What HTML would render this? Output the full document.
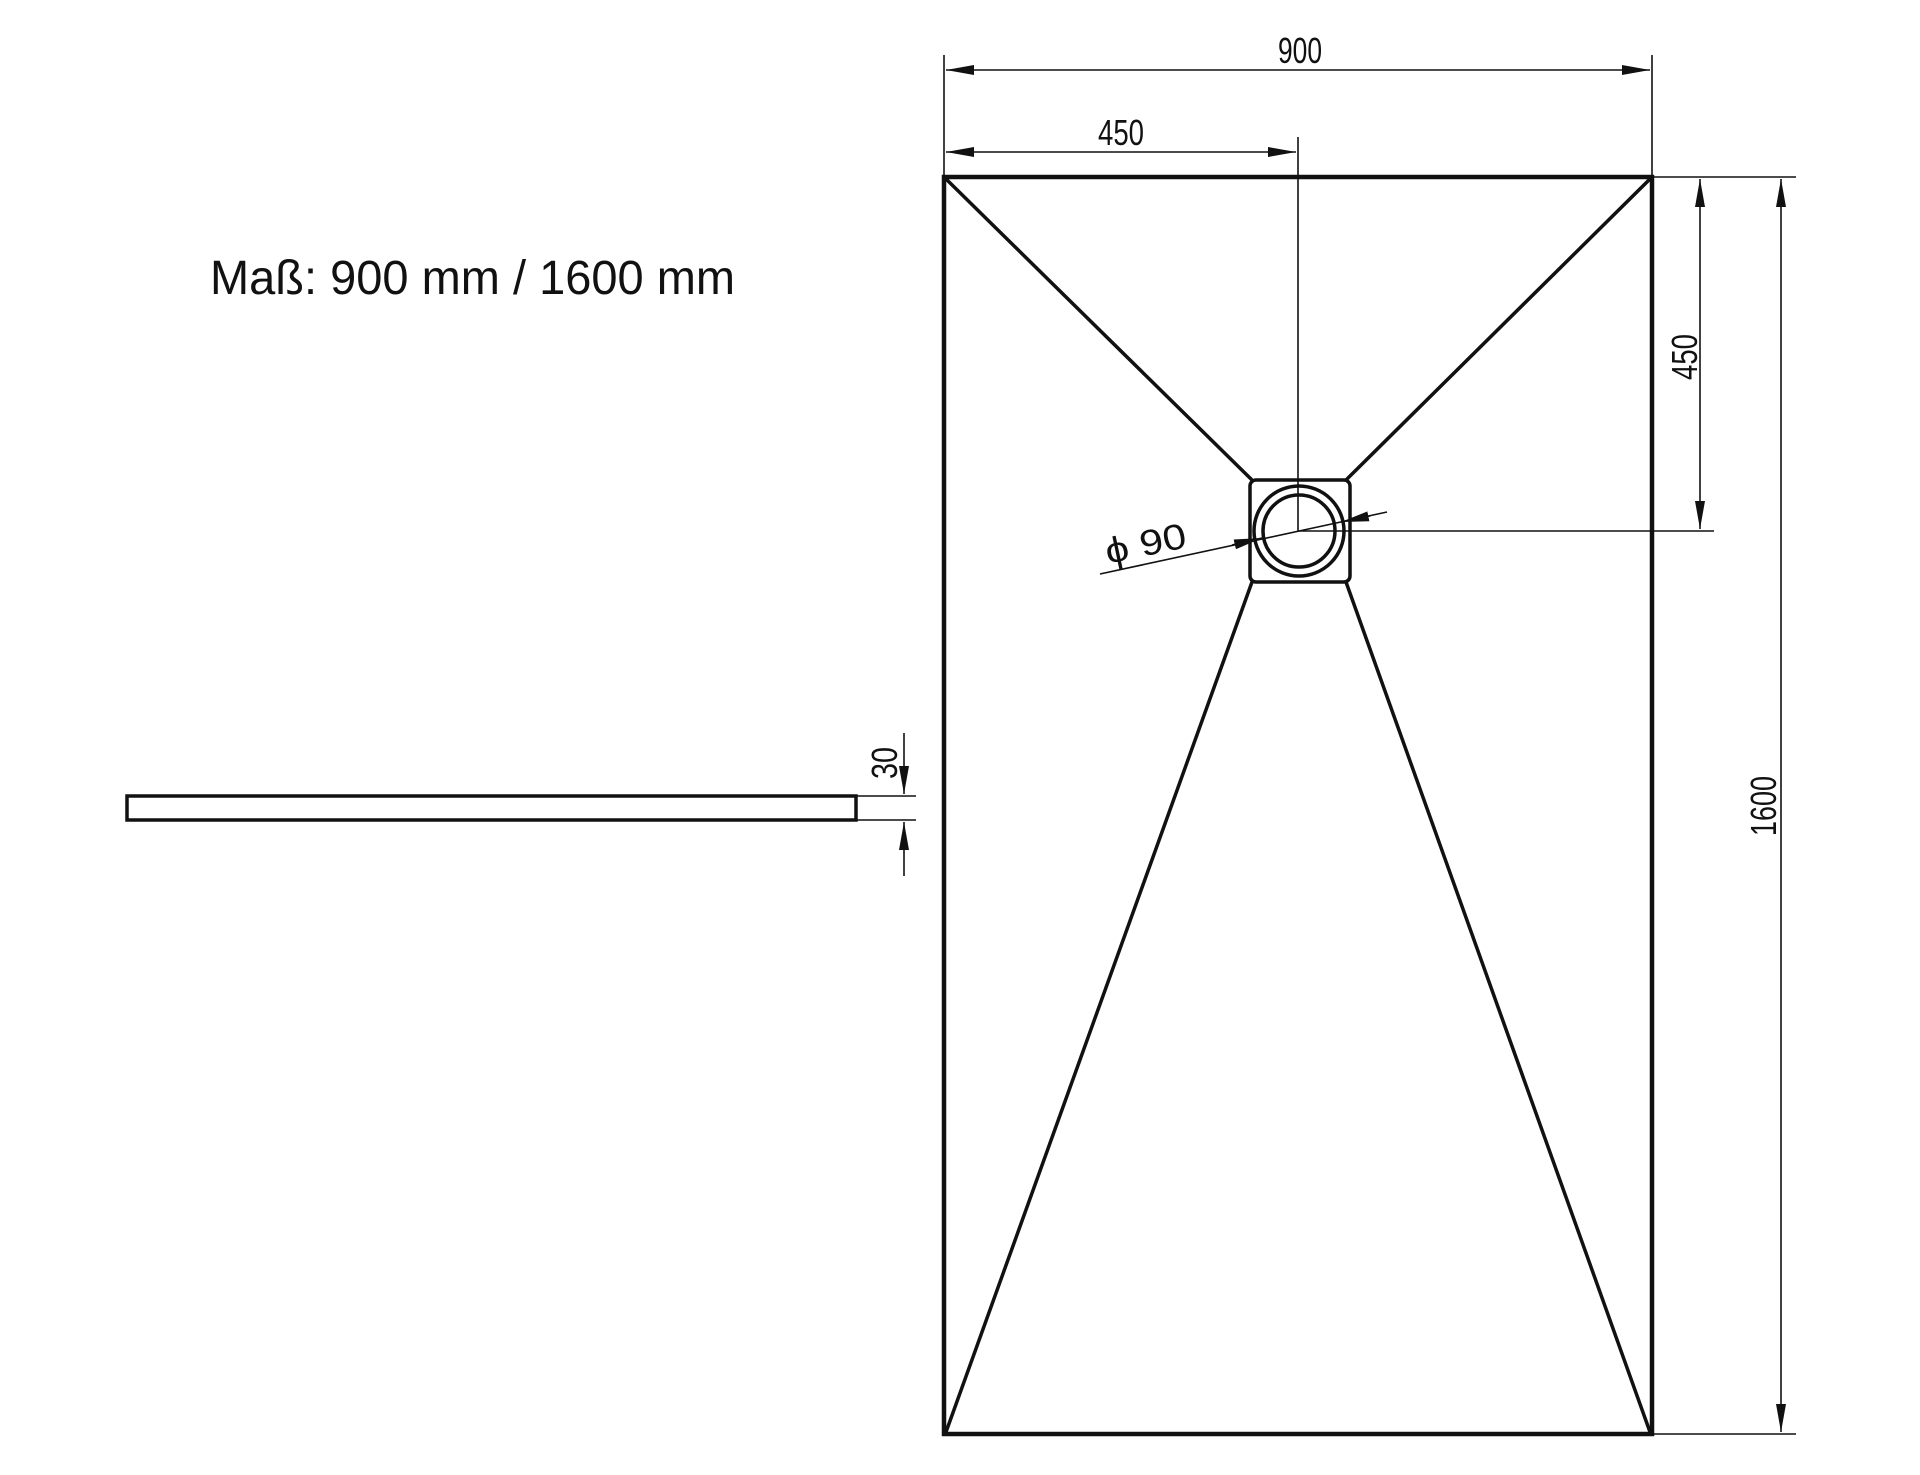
<!DOCTYPE html>
<html><head><meta charset="utf-8"><style>
html,body{margin:0;padding:0;background:#fff;width:1920px;height:1475px;overflow:hidden}
text{font-family:"Liberation Sans",sans-serif;fill:#111}
</style></head><body>
<svg width="1920" height="1475" viewBox="0 0 1920 1475" xmlns="http://www.w3.org/2000/svg">
<defs>
<marker id="a" viewBox="0 0 28 10" refX="28" refY="5" markerWidth="28" markerHeight="10" markerUnits="userSpaceOnUse" orient="auto-start-reverse"><path d="M0,0 L28,5 L0,10 Z" fill="#111"/></marker>
</defs>
<g stroke="#111" fill="none">
<rect x="944" y="177" width="708" height="1257" stroke-width="4.5"/>
<g stroke-width="3.5">
<line x1="944" y1="177" x2="1252" y2="480"/>
<line x1="1652" y1="177" x2="1346" y2="480"/>
<line x1="1252" y1="582" x2="946" y2="1432"/>
<line x1="1346" y1="582" x2="1650" y2="1432"/>
<rect x="1250" y="480" width="100" height="102" rx="6"/>
<circle cx="1299" cy="531" r="45"/>
<circle cx="1299" cy="531" r="36"/>
</g>
<g stroke-width="1.6">
<line x1="944" y1="55" x2="944" y2="177"/>
<line x1="1652" y1="55" x2="1652" y2="177"/>
<line x1="946" y1="70" x2="1650" y2="70" marker-start="url(#a)" marker-end="url(#a)"/>
<line x1="1298" y1="137" x2="1298" y2="531"/>
<line x1="946" y1="152" x2="1296" y2="152" marker-start="url(#a)" marker-end="url(#a)"/>
<line x1="1652" y1="177" x2="1796" y2="177"/>
<line x1="1299" y1="531" x2="1714" y2="531"/>
<line x1="1700" y1="179" x2="1700" y2="529" marker-start="url(#a)" marker-end="url(#a)"/>
<line x1="1652" y1="1434" x2="1796" y2="1434"/>
<line x1="1781" y1="179" x2="1781" y2="1432" marker-start="url(#a)" marker-end="url(#a)"/>
<line x1="1100" y1="574" x2="1387" y2="512"/>
<line x1="1232" y1="545" x2="1262" y2="538" marker-end="url(#a)"/>
<line x1="1370" y1="516" x2="1341" y2="522" marker-end="url(#a)"/>
<rect x="127" y="796" width="729" height="24" stroke-width="3.5"/>
<line x1="856" y1="796" x2="916" y2="796"/>
<line x1="856" y1="820" x2="916" y2="820"/>
<line x1="904" y1="733" x2="904" y2="794" marker-end="url(#a)"/>
<line x1="904" y1="876" x2="904" y2="822" marker-end="url(#a)"/>
</g>
</g>
<text x="210" y="294" font-size="48" textLength="525" lengthAdjust="spacingAndGlyphs">Maß: 900 mm / 1600 mm</text>
<g font-size="36">
<text x="1278" y="63" textLength="44" lengthAdjust="spacingAndGlyphs">900</text>
<text x="1098" y="145" textLength="46" lengthAdjust="spacingAndGlyphs">450</text>
<text transform="translate(1697,380) rotate(-90)" textLength="46" lengthAdjust="spacingAndGlyphs">450</text>
<text transform="translate(1776,836) rotate(-90)" textLength="60" lengthAdjust="spacingAndGlyphs">1600</text>
<text transform="translate(897,779) rotate(-90)" textLength="32" lengthAdjust="spacingAndGlyphs">30</text>
<text transform="translate(1108,564) rotate(-12)" textLength="82" lengthAdjust="spacingAndGlyphs">ϕ 90</text>
</g>
</svg>
</body></html>
